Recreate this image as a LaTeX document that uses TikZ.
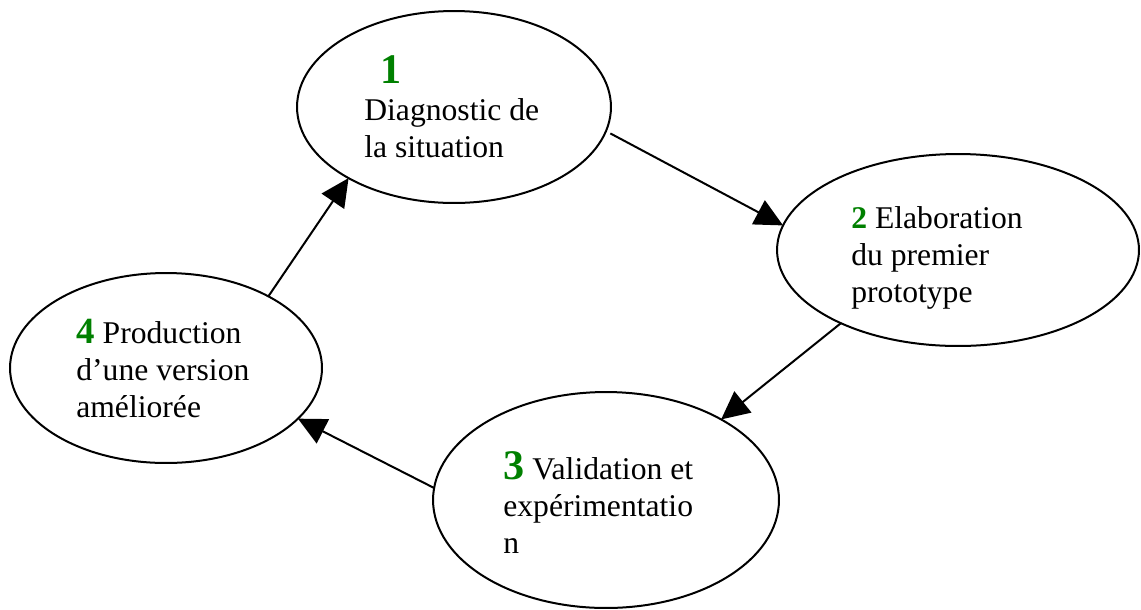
\documentclass[tikz,border=0pt]{standalone}
\usepackage{fontspec}
\setmainfont{Liberation Serif}
\usepackage{tikz}
\usetikzlibrary {arrows.meta}
\usetikzlibrary {shapes.geometric}
\definecolor{numgreen}{RGB}{0,128,0}
\newcommand{\num}[2][18]{\textcolor{numgreen}{\fontsize{#1}{21.05}\selectfont\textbf{#2}}}

\begin{document}
\begin{tikzpicture}[x=0.02cm,y=-0.02cm,
    etape/.style={draw,ellipse,line width=0.04cm,inner sep=0pt,outer sep=0pt},
    texte/.style={anchor=base west,align=left,inner sep=0pt,font=\fontsize{18}{21.05}\selectfont},
    fleche/.style={line width=0.04cm,-{Triangle[length=0.56cm,width=0.54cm]}}]
        \useasboundingbox (0,0) rectangle (1141,609);
        \node[etape,minimum width=6.28cm,minimum height=3.84cm] (s1) at (454,107) {};%1
        \node[etape,minimum width=7.24cm,minimum height=3.84cm] (s2) at (958,250) {};%2
        \node[etape,minimum width=6.92cm,minimum height=4.32cm] (s3) at (606,500) {};%3
        \node[etape,minimum width=6.24cm,minimum height=3.80cm] (s4) at (166,368) {};%4

        % base = ligne du bas
        \node[texte] (t1) at (364,157) {\hspace*{0.32cm}\num[24]{1}\\Diagnostic de\\la situation};
        \node[texte] (t2) at (851,302) {\num{2} Elaboration\\du premier\\prototype};
        \node[texte] (t3) at (503,553) {\num[24]{3} Validation et\\expérimentatio\\n};
        \node[texte] (t4) at (76,417) {\num[21]{4} Production\\d’une version\\améliorée};

        \draw[fleche,shorten <=0.1cm](s1.-9)--(s2.172.4);
        \draw[fleche](s2.-148.3)--(s3.35.5);
        \draw[fleche](s3.176.7)--(s4.-21.1);
        \draw[fleche](s4.35.1)--(s1.-146.1);
      \end{tikzpicture}
\end{document}
